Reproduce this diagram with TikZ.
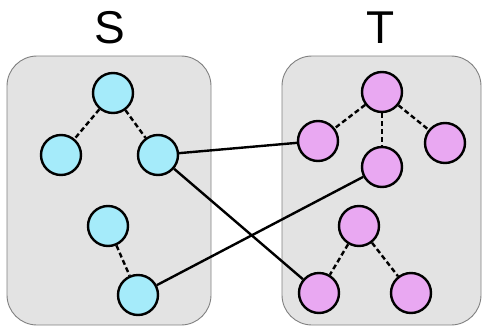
\documentclass[tikz,border=0pt]{standalone}
\usepackage{fontspec}
\setmainfont{Liberation Sans}
\begin{document}
\begin{tikzpicture}[x=1pt,y=-1pt,
  grp/.style={draw=black!50, fill=black!11, line width=0.9pt, rounded corners=30pt},
  snode/.style={circle, draw=black, line width=2.4pt, fill=cyanfill, minimum size=40pt, inner sep=0pt},
  tnode/.style={circle, draw=black, line width=2.4pt, fill=pinkfill, minimum size=40pt, inner sep=0pt},
  tree/.style={line width=2.4pt, dash pattern=on 5pt off 3pt},
  link/.style={line width=2.4pt},
  lbl/.style={font=\fontsize{46}{46}\selectfont, inner sep=0pt}
]
\definecolor{cyanfill}{HTML}{A5EBFA}
\definecolor{pinkfill}{HTML}{E9A8F2}
\useasboundingbox (0,0) rectangle (482,327);
\draw[grp] (7,56) rectangle (211,325);
\draw[grp] (282,56) rectangle (481,325);
\node[lbl] (S) at (110,28) {S};
\node[lbl] (T) at (381,28) {T};
% S nodes
\node[snode] (s1) at (113,93) {};
\node[snode] (s2) at (61,155) {};
\node[snode] (s3) at (158,155) {};
\node[snode] (s4) at (108,226) {};
\node[snode] (s5) at (138,295) {};
% T nodes
\node[tnode] (t1) at (382,92) {};
\node[tnode] (t2) at (318,141) {};
\node[tnode] (t3) at (445,143) {};
\node[tnode] (t4) at (382,167) {};
\node[tnode] (t5) at (359,226) {};
\node[tnode] (t6) at (319,293) {};
\node[tnode] (t7) at (411,293) {};
% tree edges
\draw[tree] (s1) -- (s2);
\draw[tree] (s1) -- (s3);
\draw[tree] (s4) -- (s5);
\draw[tree] (t1) -- (t2);
\draw[tree] (t1) -- (t3);
\draw[tree] (t1) -- (t4);
\draw[tree] (t5) -- (t6);
\draw[tree] (t5) -- (t7);
% links
\draw[link] (s3) -- (t2);
\draw[link] (s3) -- (t6);
\draw[link] (s5) -- (t4);
\end{tikzpicture}
\end{document}
